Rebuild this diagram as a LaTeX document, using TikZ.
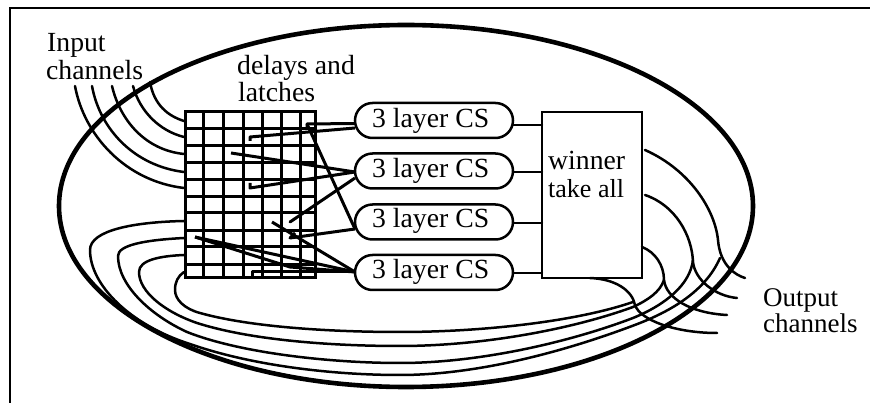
\documentclass[tikz,border=0pt]{standalone}
\usepackage{fontspec}
\setmainfont{Liberation Serif}
\usetikzlibrary{shapes.misc}
\tikzset{
  wire/.style={line width=2.5pt,line cap=round,line join=round},
  tap/.style={line width=3pt,line cap=butt,line join=round},
  gridline/.style={line width=3pt},
  frameline/.style={line width=1.6pt},
  outerloop/.style={line width=4.6pt},
  label/.style={anchor=base west,inner sep=0pt,font=\fontsize{27.7}{28}\selectfont},
  midlabel/.style={anchor=base west,inner sep=0pt,font=\fontsize{26}{26}\selectfont},
  outlabel/.style={anchor=base west,inner sep=0pt,font=\fontsize{27}{27}\selectfont},
  cs/.style={draw,line width=2.5pt,rounded rectangle,minimum width=158pt,minimum height=35pt,inner sep=0pt},
  wta/.style={draw,line width=2.5pt,minimum width=100pt,minimum height=166pt,inner sep=0pt},
  latchgrid/.style={draw,line width=3pt,minimum width=130pt,minimum height=166pt,inner sep=0pt}
}
\begin{document}
\begin{tikzpicture}[x=1pt,y=-1pt]
\useasboundingbox (0,0) rectangle (871,403);
% frame
\draw[frameline] (10,403) -- (10,8) -- (870,8);
% thick loop
\draw[outerloop] (406,206) ellipse [x radius=347,y radius=181];
% grid
\node[latchgrid] (grid) at (250.5,195) {};
\foreach \x in {203,223,243,262,281,300}
  \draw[gridline] (\x,112) -- (\x,278);
\foreach \y in {129,146,163,180,197,213,231,247,265}
  \draw[gridline] (185.5,\y) -- (315.5,\y);
% CS nodes
\node[cs] (p1) at (434,120.5) {};
\node[cs] (p2) at (434,171) {};
\node[cs] (p3) at (434,222) {};
\node[cs] (p4) at (434,272.5) {};
\node[wta] (w) at (592,195) {};
% texts
\node[label] (t1) at (372,128) {3 layer CS};
\node[label] (t2) at (372,178) {3 layer CS};
\node[label] (t3) at (372,228) {3 layer CS};
\node[label] (t4) at (372,279) {3 layer CS};
\node[label] (t5) at (548,170) {winner};
\node[midlabel] (t6) at (548,198) {take all};
\node[label] (t7) at (47,52) {Input};
\node[label] (t8) at (46,80) {channels};
\node[label] (t9) at (237,75) {delays and};
\node[label] (t10) at (238,102) {latches};
\node[outlabel] (t11) at (763,307) {Output};
\node[outlabel] (t12) at (763,333) {channels};
% pins
\coordinate (p1a) at (355,123.5);
\coordinate (p1b) at (355,128);
\coordinate (p2a) at (355,172);
\coordinate (p2b) at (355,178);
\coordinate (p3a) at (355,229);
\coordinate (p4a) at (355,272);
% CS to winner
\coordinate (w1) at (542,125);
\coordinate (w2) at (542,172);
\coordinate (w3) at (542,223);
\coordinate (w4) at (542,273);
\coordinate (e1) at (513,125);
\coordinate (e2) at (513,172);
\coordinate (e3) at (513,223);
\coordinate (e4) at (513,273);
\draw[wire] (e1) -- (w1);
\draw[wire] (e2) -- (w2);
\draw[wire] (e3) -- (w3);
\draw[wire] (e4) -- (w4);
% taps in the grid
\coordinate (g1) at (307,124);
\coordinate (g2) at (250,137);
\coordinate (g3) at (231,153);
\coordinate (g4) at (250,188);
\coordinate (g5) at (290,222);
\coordinate (g6) at (290,238);
\coordinate (g7) at (272,222);
\coordinate (g8) at (195,237);
\coordinate (g9) at (252,272);
\draw[tap] (307,128) -- (g1) -- (p1a);
\draw[tap] (250,141) -- (g2) -- (p1b);
\draw[tap] (g3) -- (p2a);
\draw[tap] (250,183) -- (g4) -- (p2a);
\draw[tap] (g1) -- (p3a);
\draw[tap] (296,218) -- (g5) -- (p2b);
\draw[tap] (295,233) -- (g6) -- (p3a);
\draw[tap] (g7) -- (p4a);
\draw[tap] (g8) -- (p4a);
\draw[tap] (g8) -- (290,267) -- (p4a);
\draw[tap] (252,276) -- (g9) -- (p4a);
% input channels
\coordinate (i1) at (75,86);  \coordinate (j1) at (184,188);
\coordinate (i2) at (92,86);  \coordinate (j2) at (184,172);
\coordinate (i3) at (112,86); \coordinate (j3) at (184,154);
\coordinate (i4) at (133,86); \coordinate (j4) at (184,137);
\coordinate (i5) at (150,82); \coordinate (j5) at (184,121);
\draw[wire] (i1) .. controls (84,135) and (125,181) .. (j1);
\draw[wire] (i2) .. controls (100,130) and (135,166) .. (j2);
\draw[wire] (i3) .. controls (120,120) and (145,150) .. (j3);
\draw[wire] (i4) .. controls (140,112) and (160,131) .. (j4);
\draw[wire] (i5) .. controls (154,105) and (168,116) .. (j5);
% outputs
\coordinate (b1) at (645,150); \coordinate (o1) at (745,278);
\coordinate (b2) at (645,195); \coordinate (o2) at (737,298);
\coordinate (b3) at (642,247); \coordinate (o3) at (727,315);
\coordinate (b4) at (590,278); \coordinate (o4) at (717,333);
\draw[wire] (b1) .. controls (690,170) and (715,210) .. (718,240) .. controls (720,265) and (735,275) .. (o1);
\draw[wire] (b2) .. controls (675,205) and (692,235) .. (693,262) .. controls (695,280) and (715,296) .. (o2);
\draw[wire] (b3) .. controls (655,252) and (664,265) .. (664,280) .. controls (666,298) and (690,313) .. (o3);
\draw[wire] (b4) .. controls (615,279) and (632,290) .. (635,305) .. controls (640,320) and (675,333) .. (o4);
% recurrent loops
\coordinate (r1) at (184,221);
\coordinate (r2) at (184,238);
\coordinate (r3) at (184,255);
\coordinate (r4) at (184,272);
\coordinate (q1) at (720,258);
\coordinate (q2) at (693,260);
\coordinate (q3) at (664,280);
\coordinate (q4) at (633,302);
\draw[wire] (r1) .. controls (135,222) and (90,230) .. (90,250) .. controls (90,285) and (130,325) .. (190,344) .. controls (250,365) and (330,375) .. (400,375) .. controls (480,375) and (570,350) .. (640,323) .. controls (670,311) and (705,292) .. (q1);
\draw[wire] (r2) .. controls (145,240) and (118,245) .. (118,256) .. controls (118,285) and (150,315) .. (187,332) .. controls (240,353) and (330,363) .. (400,363) .. controls (480,363) and (570,342) .. (633,318) .. controls (665,305) and (690,285) .. (q2);
\draw[wire] (r3) .. controls (160,256) and (139,260) .. (139,272) .. controls (139,292) and (165,312) .. (197,323) .. controls (250,340) and (330,346) .. (400,346) .. controls (480,346) and (570,330) .. (633,307) .. controls (648,300) and (660,292) .. (q3);
\draw[wire] (r4) .. controls (178,276) and (175,282) .. (175,290) .. controls (175,300) and (185,309) .. (200,313) .. controls (250,327) and (330,332) .. (400,332) .. controls (480,332) and (575,322) .. (q4);
\end{tikzpicture}
\end{document}
